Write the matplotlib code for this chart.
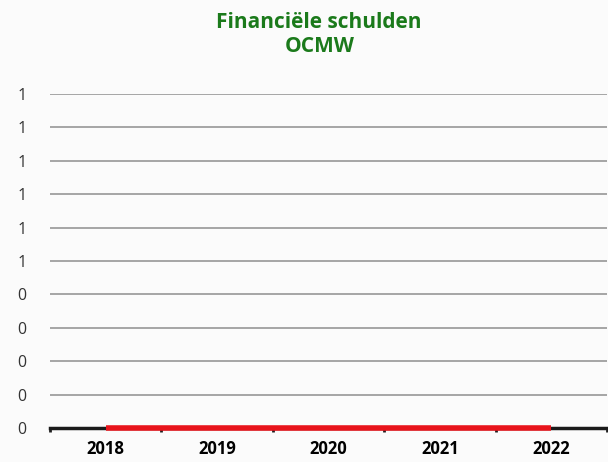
import numpy as np
import matplotlib.pyplot as plt
from matplotlib.ticker import FixedLocator, FixedFormatter

# Financiële schulden OCMW per jaar
jaren = ['2018', '2019', '2020', '2021', '2022']
schulden = [0, 0, 0, 0, 0]

y_ticks = [0.0, 0.1, 0.2, 0.3, 0.4, 0.5, 0.6, 0.7, 0.8, 0.9, 1.0]
y_labels = ['0', '0', '0', '0', '0', '1', '1', '1', '1', '1', '1']

fig = plt.figure(figsize=(6.08, 4.62), dpi=100)
fig.patch.set_facecolor('#fbfbfb')
ax = fig.add_axes([50/608, 1 - 428/462, 557/608, (428 - 94)/462])
ax.set_facecolor('#fbfbfb')

x = np.arange(len(jaren))
ax.plot(x, schulden, color='#e8141b', lw=4, solid_capstyle='butt', clip_on=False, zorder=5)

ax.set_xlim(-0.5, len(jaren) - 0.5)
ax.set_ylim(0, 1.0)

ax.yaxis.set_major_locator(FixedLocator(y_ticks))
ax.yaxis.set_major_formatter(FixedFormatter(y_labels))
ax.grid(axis='y', color='#9e9e9e', lw=1.3)
ax.set_axisbelow(True)

ax.set_xticks(x)
ax.set_xticklabels(jaren, fontweight='bold', fontsize=12, family='Open Sans')
ax.set_xticks(np.arange(-0.5, len(jaren)), minor=True)
ax.tick_params(axis='x', which='major', length=0, pad=9)
ax.tick_params(axis='x', which='minor', length=3, width=2, color='#202020', direction='out')
ax.tick_params(axis='y', length=0, pad=17, labelsize=11.5)
for lab in ax.get_yticklabels():
    lab.set_family('Open Sans')
    lab.set_color('#333333')

for side in ['top', 'right', 'left']:
    ax.spines[side].set_visible(False)
ax.spines['bottom'].set_linewidth(2.5)
ax.spines['bottom'].set_color('#1a1a1a')

fig.text(0.525, 0.925, 'Financiële schulden\nOCMW', ha='center', va='center',
         color='#1b7a1b', fontsize=15, fontweight='bold', family='Open Sans',
         linespacing=1.2)

fig.savefig('out.png', dpi=100, facecolor=fig.get_facecolor())
